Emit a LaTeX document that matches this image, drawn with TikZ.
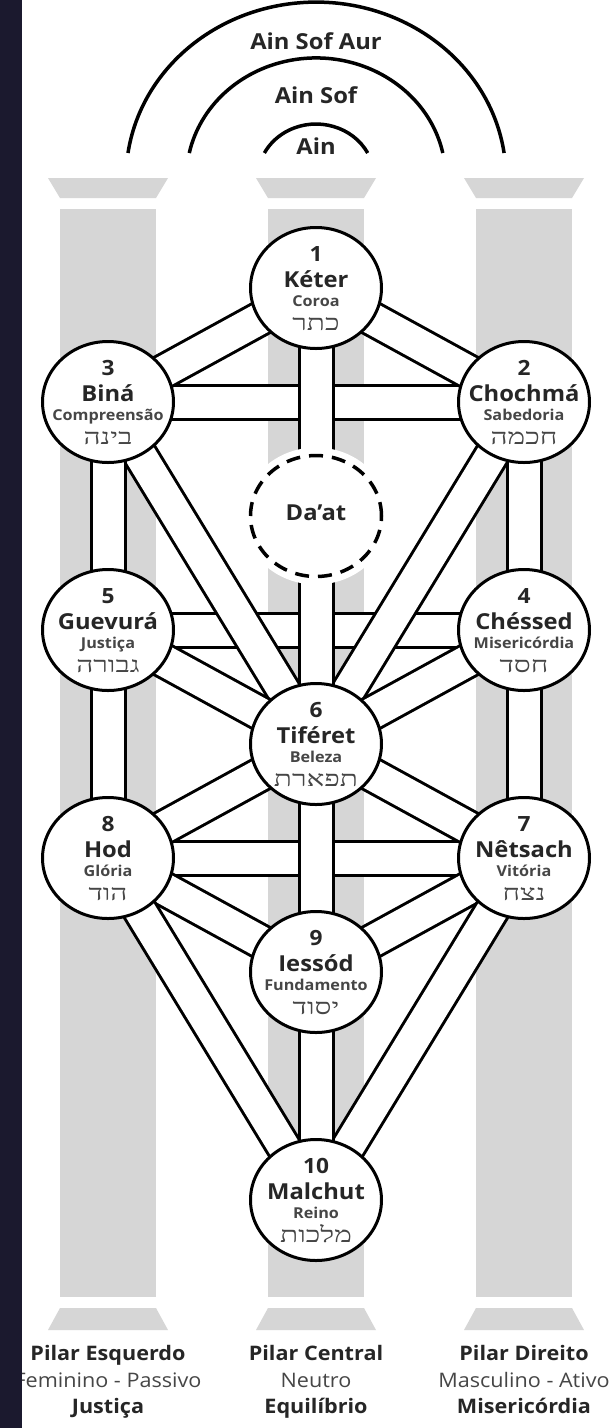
\documentclass[tikz,border=0pt]{standalone}
\usepackage{fontspec}
\setmainfont{Open Sans}[FakeStretch=1.08]
\newfontfamily\hebfont[Script=Hebrew, FakeStretch=1.35]{Liberation Serif}
\TeXXeTstate=1
\usepackage{tikz}
\usetikzlibrary{shapes.geometric}

\definecolor{pillargray}{RGB}{214,214,214}
\definecolor{darkband}{RGB}{27,25,46}
\definecolor{txtdark}{RGB}{38,38,38}
\definecolor{txtsub}{RGB}{70,70,70}

\tikzset{
	pillar/.style={fill=pillargray},
	arcline/.style={draw=black, line width=3.5pt},
	channel/.style={draw=black, line width=37pt, postaction={draw=white, line width=31pt}},
	sefira/.style={ellipse, draw=black, line width=3pt, fill=white, inner sep=0pt, minimum width=131pt, minimum height=121pt},
	daat/.style={sefira, draw=none, preaction={draw=white, line width=16pt}, postaction={draw=black, line width=3.5pt, dash pattern=on 14pt off 9pt}},
	numtxt/.style={anchor=base, inner sep=0pt, text=txtdark, font=\fontsize{21}{21}\selectfont\bfseries},
	nametxt/.style={numtxt, font=\fontsize{22}{22}\selectfont\bfseries},
	subtxt/.style={anchor=base, inner sep=0pt, text=txtsub, font=\fontsize{15}{15}\selectfont\bfseries},
	hebtxt/.style={anchor=base, inner sep=0pt, text=txtsub, font=\hebfont\fontsize{22}{22}\selectfont},
	toptxt/.style={anchor=base, inner sep=0pt, text=txtdark, font=\fontsize{22}{22}\selectfont\bfseries},
	pilarbold/.style={anchor=base, inner sep=0pt, text=txtdark, font=\fontsize{20}{20}\selectfont\bfseries},
	pilarreg/.style={anchor=base, inner sep=0pt, text=txtsub, font=\fontsize{20}{20}\selectfont},
}

\newcommand{\sefira}[5] % {name}{number}{title}{subtitle}{hebrew}
{
	\node[sefira] (#1-c) at (#1) {};
	\node[numtxt] (#1-num) at ([yshift=27pt]#1) {#2};
	\node[nametxt] (#1-name) at ([yshift=0.5pt]#1) {#3};
	\node[subtxt] (#1-sub) at ([yshift=-18.5pt]#1) {#4};
	\node[hebtxt] (#1-heb) at ([yshift=-42pt]#1) {\beginR #5\endR};
}

\begin{document}
\begin{tikzpicture}[x=1pt, y=-1pt]
	\useasboundingbox (0,0) rectangle (615,1428);
	\fill[white] (0,0) rectangle (615,1428);

	% the three pillars
	\foreach \x in {108,316,524} {
		\fill[pillar] (\x-60,178) -- (\x+60,178) -- (\x+48,198) -- (\x-48,198) -- cycle;
		\fill[pillar] (\x-48,209) rectangle (\x+48,1297);
		\fill[pillar] (\x-48,1308) -- (\x+48,1308) -- (\x+60,1330) -- (\x-60,1330) -- cycle;
	}

	% Ain, Ain Sof, Ain Sof Aur
	\draw[arcline] (504.1,153) arc[start angle=8.2, end angle=171.8, x radius=190pt, y radius=176pt];
	\draw[arcline] (442.8,153) arc[start angle=12.0, end angle=168.0, x radius=129.6pt, y radius=120pt];
	\draw[arcline] (367.7,153) arc[start angle=27.6, end angle=152.4, x radius=58.3pt, y radius=54pt];
	\node[toptxt] (ainsofaur) at (316,49) {Ain Sof Aur};
	\node[toptxt] (ainsof) at (316,103) {Ain Sof};
	\node[toptxt] (ain) at (316,154) {Ain};

	% centres of the sefirot
	\coordinate (keter) at (316,288);
	\coordinate (chochma) at (524,402);
	\coordinate (bina) at (108,402);
	\coordinate (daat) at (316,516);
	\coordinate (chesed) at (524,630);
	\coordinate (gevura) at (108,630);
	\coordinate (tiferet) at (316,744);
	\coordinate (netsach) at (524,858);
	\coordinate (hod) at (108,858);
	\coordinate (yesod) at (316,972);
	\coordinate (malchut) at (316,1200);

	% the 22 paths: horizontal, then diagonal, then vertical
	\foreach \a/\b in {bina/chochma, gevura/chesed, hod/netsach,
		keter/chochma, keter/bina, chochma/tiferet, bina/tiferet,
		gevura/tiferet, chesed/tiferet, tiferet/hod, tiferet/netsach,
		hod/yesod, netsach/yesod, hod/malchut, netsach/malchut,
		keter/tiferet, tiferet/yesod, yesod/malchut,
		bina/gevura, gevura/hod, chochma/chesed, chesed/netsach}
		\draw[channel] (\a) -- (\b);

	\sefira{keter}{1}{Kéter}{Coroa}{כתר}
	\sefira{chochma}{2}{Chochmá}{Sabedoria}{חכמה}
	\sefira{bina}{3}{Biná}{Compreensão}{בינה}
	\sefira{chesed}{4}{Chéssed}{Misericórdia}{חסד}
	\sefira{gevura}{5}{Guevurá}{Justiça}{גבורה}
	\sefira{tiferet}{6}{Tiféret}{Beleza}{תפארת}
	\sefira{netsach}{7}{Nêtsach}{Vitória}{נצח}
	\sefira{hod}{8}{Hod}{Glória}{הוד}
	\sefira{yesod}{9}{Iessód}{Fundamento}{יסוד}
	\sefira{malchut}{10}{Malchut}{Reino}{מלכות}

	\node[daat] (daat-c) at (daat) {};
	\node[nametxt] (daat-name) at ([yshift=-4pt]daat) {Da’at};

	% names of the pillars
	\foreach \x/\p/\a/\b/\c in {108/esq/Pilar Esquerdo/Feminino - Passivo/Justiça,
		316/cen/Pilar Central/Neutro/Equilíbrio,
		524/dir/Pilar Direito/Masculino - Ativo/Misericórdia} {
		\node[pilarbold] (\p-title) at (\x,1360) {\a};
		\node[pilarreg] (\p-kind) at (\x,1387) {\b};
		\node[pilarbold] (\p-trait) at (\x,1413) {\c};
	}

	\fill[darkband] (0,0) rectangle (21.5,1428);
\end{tikzpicture}
\end{document}
